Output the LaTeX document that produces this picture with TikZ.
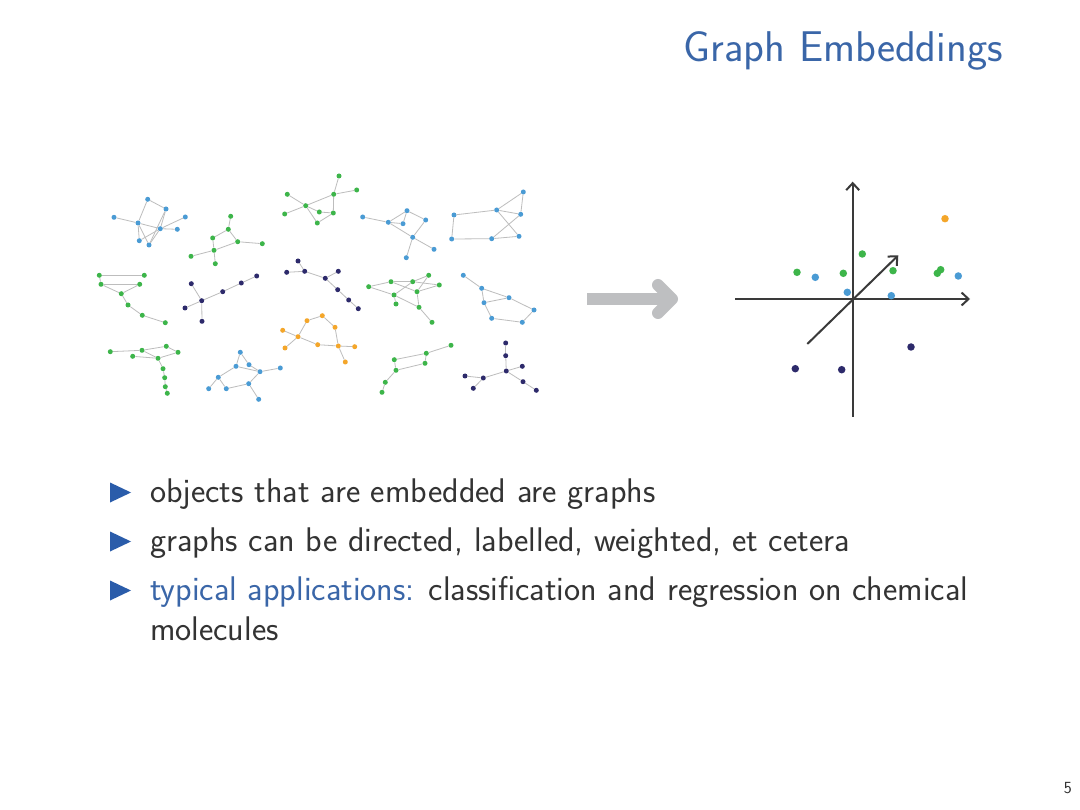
\documentclass[tikz,border=0pt]{standalone}
\usetikzlibrary{arrows.meta}
\definecolor{gblue}{HTML}{4A9BD4}
\definecolor{ggreen}{HTML}{3DB54A}
\definecolor{gdark}{HTML}{2D2A6B}
\definecolor{gorange}{HTML}{F4A62A}
\definecolor{edgegray}{HTML}{BDBDBD}
\definecolor{titleblue}{HTML}{3A66A8}
\definecolor{bulletblue}{HTML}{2A5CAA}
\definecolor{textgray}{HTML}{333333}
\definecolor{arrowgray}{HTML}{BEBFC1}
\definecolor{axisgray}{HTML}{3A3A3A}
\tikzset{
  gnode/.style={circle,inner sep=0pt,minimum size=5pt,draw=none,fill=#1},
  edge/.style={draw=edgegray,line width=0.8pt},
  edot/.style={circle,inner sep=0pt,minimum size=7.5pt,draw=none,fill=#1},
  axis/.style={draw=axisgray,line width=2pt,-{Straight Barb[length=7pt,width=13pt,line width=2pt]}},
  bigarrow/.style={draw=arrowgray,line width=12pt},
  bodytext/.style={anchor=base west,inner sep=0pt,text=textgray,font=\sffamily\fontsize{34.2}{41}\selectfont},
  bullettri/.style={fill=bulletblue,draw=none}
}
\newcommand\mkgraph[4]{%
  \foreach \n/\x/\y in {#3} {\node[gnode=#2] (#1\n) at (\x,\y) {};}
  \foreach \u/\v in {#4} {\draw[edge] (#1\u) -- (#1\v);}
}
\begin{document}
\begin{tikzpicture}[x=1pt,y=-1pt]
\useasboundingbox (0,0) rectangle (1080,810);
\fill[white] (0,0) rectangle (1080,810);

% title
\node[anchor=base east,inner sep=0pt,text=titleblue,font=\sffamily\fontsize{43}{50}\selectfont] (title) at (1003,62) {Graph Embeddings};

% small graphs
\mkgraph{ga}{gblue}{a/147.7/199.3,b/166/209,c/114/217.3,d/138/223,e/160.3/228.7,f/177.3/229.3,g/185.3/217,h/139.3/240.7,i/149/245}{a/b,a/d,c/d,d/e,d/h,d/i,b/e,b/i,e/g,e/f,e/h,e/i}
\mkgraph{gb}{ggreen}{a/230.7/216.3,b/228.3/229.3,c/212.7/238,d/237.7/241.7,e/262.3/243.7,f/214/250.3,g/191/256.3,h/215.3/263.7}{a/b,b/c,b/d,c/f,d/e,d/f,f/g,f/h}
\mkgraph{gc}{ggreen}{a/339/176,b/356.7/190,c/287.3/194.3,d/333.7/194.3,e/305.7/205.7,f/319.3/212,g/333.3/213,h/284.7/214,i/317.3/223}{a/d,b/d,c/e,d/e,d/g,e/h,e/f,f/g,e/i,i/g}
\mkgraph{gd}{gblue}{a/362.7/217,b/388.3/222.3,c/407/210.7,d/403/223.7,e/412.7/237.3,f/406.3/257.7,g/425.7/220,h/434/249.3}{a/b,b/c,b/d,b/e,c/g,c/d,g/e,e/h,e/f}
\mkgraph{ge}{gblue}{a/523.3/192,b/454/215,c/496.7/210,d/520.7/214.3,e/451.7/239,f/491.7/238.7,g/519/236.3}{a/c,a/d,b/c,b/e,c/d,c/g,d/f,e/f,f/g}
\mkgraph{gf}{ggreen}{a/99.3/275.3,b/144.3/275.3,c/101/284.3,d/139.7/284.3,e/121.3/293.7,f/128/305,g/142.3/315.3,h/165.3/322.7}{a/b,c/d,a/c,c/e,d/e,e/f,f/g,g/h}
\mkgraph{gg}{gdark}{a/191.3/283.7,b/256.7/276,c/241.3/283,d/222.7/291.7,e/201.7/300.7,f/185/308,g/202/321.3}{a/e,e/d,d/c,c/b,e/f,e/g}
\mkgraph{gh}{gdark}{a/298/261,b/286.7/272.3,c/304.7/271.3,d/338.3/271.3,e/325.3/278.3,f/337.7/289.7,g/348.7/300,h/358.3/308.7}{a/c,b/c,c/e,d/e,e/f,f/g,g/h}
\mkgraph{gi}{ggreen}{a/368.7/286.7,b/391/281.7,c/412.7/281.7,d/428.7/275.3,e/439.3/285,f/394/295,g/417/291.7,h/396/304,i/419/307.3,j/432/322.3}{a/b,b/c,c/d,c/e,d/g,b/g,f/c,f/h,f/i,g/i,g/e,i/j,a/f}
\mkgraph{gj}{gblue}{a/463.3/275.3,b/481.7/288.3,c/509/297.7,d/484/302.7,e/534/310,f/491.7/318.3,g/522.3/322.3}{a/b,b/c,b/d,c/d,d/f,c/e,e/g,f/g}
\mkgraph{gk}{gorange}{a/322.3/315.7,b/307/320.7,c/282.7/330.3,d/335/327.3,e/298/336.7,f/317.7/344.7,g/338.3/346,h/354.7/346.7,i/285/348,j/345.3/362}{a/b,a/d,b/e,c/e,e/i,e/f,f/g,d/g,g/h,g/j}
\mkgraph{gl}{ggreen}{a/451/345.3,b/426.3/353.3,c/394.3/359.7,d/425/363.3,e/396/370.3,f/385.3/382.3,g/382/392.3}{a/b,b/c,b/d,c/e,d/e,e/f,f/g}
\mkgraph{gm}{gdark}{a/505.7/343,b/505.7/355.7,c/522.3/366.3,d/506.3/371,e/465/376,f/483.3/378,g/523/381.7,h/473.3/388.3,i/536.3/390.3}{a/b,b/d,c/d,d/f,e/f,f/h,d/g,g/i}
\mkgraph{gn}{ggreen}{a/110.3/351.7,b/142/350.3,c/166.3/346.3,d/178/352.3,e/132.7/356.3,f/158/358.3,g/163/368.7,h/164.7/377.7,i/165.3/386.7,j/167.3/393.3}{a/b,b/c,c/d,d/f,b/f,e/f,f/g,g/h,h/i,i/j}
\mkgraph{go}{gblue}{a/240.3/352.3,b/236/366.3,c/249/364.7,d/260/371.7,e/280.3/368,f/218.3/377.3,g/248.7/383.7,h/208.7/388.7,i/226.3/388.7,j/258.7/399.3}{a/b,a/c,c/d,b/d,d/e,b/f,f/h,f/i,i/g,g/d,g/j}

% big gray arrow
\coordinate (arS) at (587,299);
\coordinate (arE) at (668,299);
\coordinate (arT) at (658,285);
\coordinate (arP) at (672,299);
\coordinate (arB) at (658,313);
\draw[bigarrow] (arS) -- (arE);
\draw[bigarrow,line cap=round,line join=round] (arT) -- (arP) -- (arB);

% axes
\coordinate (yb) at (852.7,416.7);
\coordinate (yt) at (852.7,181.7);
\coordinate (xl) at (735,299);
\coordinate (xr) at (970,299);
\coordinate (zl) at (807.3,344);
\coordinate (zr) at (898.3,255.3);
\draw[axis] (yb) -- (yt);
\draw[axis] (xl) -- (xr);
\draw[axis] (zl) -- (zr);

% embedded points
\node[edot=gorange] (p1) at (945,218.7) {};
\node[edot=ggreen] (p2) at (862.3,254) {};
\node[edot=ggreen] (p3) at (797,272.3) {};
\node[edot=gblue] (p4) at (815.3,277.3) {};
\node[edot=ggreen] (p5) at (843.3,273.3) {};
\node[edot=ggreen] (p6) at (893,270.7) {};
\node[edot=ggreen] (p7) at (937.3,273.3) {};
\node[edot=ggreen] (p8) at (940.7,269.7) {};
\node[edot=gblue] (p9) at (958.3,276) {};
\node[edot=gblue] (p10) at (847.3,292.3) {};
\node[edot=gblue] (p11) at (891.3,295.7) {};
\node[edot=gdark] (p12) at (911,347) {};
\node[edot=gdark] (p13) at (795.3,368.7) {};
\node[edot=gdark] (p14) at (841.7,369.7) {};

% bullets
\fill[bullettri] (110,482.5) -- (131,492.5) -- (110,502.5) -- cycle;
\fill[bullettri] (110,531.5) -- (131,541.5) -- (110,551.5) -- cycle;
\fill[bullettri] (110,580.5) -- (131,590.5) -- (110,600.5) -- cycle;
\node[bodytext] (t1) at (150,502) {objects that are embedded are graphs};
\node[bodytext] (t2) at (150,551) {graphs can be directed, labelled, weighted, et cetera};
\node[bodytext] (t3) at (150,600) {\textcolor{titleblue}{typical applications:} classification and regression on chemical};
\node[bodytext] (t4) at (150,640) {molecules};

% page number
\node[anchor=base east,inner sep=0pt,text=textgray,font=\sffamily\fontsize{17}{19}\selectfont] (pg) at (1072,793) {5};
\end{tikzpicture}
\end{document}
